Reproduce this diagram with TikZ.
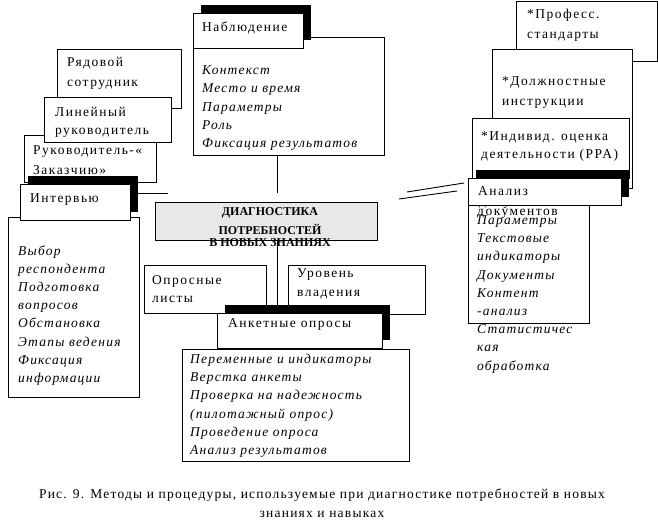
\documentclass[tikz,border=0pt]{standalone}
\usepackage{fontspec}
\setmainfont{Liberation Serif}
\newfontfamily\boxfont{Liberation Serif}[LetterSpace=11]
\newfontfamily\listfont{Liberation Serif}[LetterSpace=9]
\newfontfamily\capfont{Liberation Serif}[LetterSpace=9]
\usetikzlibrary{shadows,calc}

\tikzset{
  box/.style={draw,fill=white,line width=0.9pt,anchor=north west,inner sep=0pt},
  shbox/.style={box,general shadow={fill=black,shadow xshift=8pt,shadow yshift=8pt}},
  txt/.style={anchor=base west,inner sep=0pt,align=left,font=\boxfont\fontsize{13.5}{19.5}\selectfont},
  itxt/.style={anchor=base west,inner sep=0pt,align=left,font=\listfont\itshape\fontsize{13.5}{18.2}\selectfont},
  link/.style={line width=0.9pt}
}

\begin{document}
\begin{tikzpicture}[x=1pt,y=-1pt]
\useasboundingbox (0,0) rectangle (658,526);

% right stack
\node[box,minimum width=141pt,minimum height=60pt] (prof) at (516,1) {};
\node[txt] (prof-t) at (527,38.5) {*Професс.\\стандарты};
\node[box,minimum width=140pt,minimum height=139pt] (dolzh) at (492,49) {};
\node[txt] (dolzh-t) at (502,105.5) {*Должностные\\инструкции};
\node[box,minimum width=157pt,minimum height=60pt] (indiv) at (472,118) {};
\node[txt] (indiv-t) at (481,158.5) {*Индивид. оценка\\[-1.5pt]деятельности (PPA)};

\node[box,minimum width=121pt,minimum height=118pt] (analiz) at (468,205) {};
\node[txt] (analiz-t0) at (479,206) {документов};
\node[txt] (analiz-t1) at (477,216) {документов};
\node[itxt] (analiz-t) at (477,370) {Параметры\\Текстовые\\индикаторы\\Документы\\Контент\\-анализ\\Статистичес\\кая\\обработка};
\node[shbox,minimum width=153pt,minimum height=27pt] (analiz-h) at (468,178) {};
\node[txt] (analiz-ht) at (478,196) {Анализ};

\coordinate (doc-a1) at (407,192);
\coordinate (doc-a2) at (464,183);
\coordinate (doc-b1) at (399,199);
\coordinate (doc-b2) at (457,191);
\draw[link] (doc-a1) -- (doc-a2);
\draw[link] (doc-b1) -- (doc-b2);

% left stack
\node[box,minimum width=124pt,minimum height=59pt] (ryad) at (57,49) {};
\node[txt] (ryad-t) at (67,86.5) {Рядовой\\сотрудник};
\node[box,minimum width=132pt,minimum height=47pt] (ruk) at (24,135) {};
\node[txt] (ruk-t) at (33,175) {Руководитель-«\\[0.5pt]Заказчию»};
\node[box,minimum width=127pt,minimum height=45pt] (lin) at (44,97) {};
\node[txt] (lin-t) at (55,134.5) {Линейный\\[-1.5pt]руководитель};

\node[box,minimum width=131pt,minimum height=180pt] (interv) at (8,217) {};
\node[itxt] (interv-t) at (18,382.5) {Выбор\\респондента\\Подготовка\\вопросов\\Обстановка\\Этапы ведения\\Фиксация\\информации};
\node[shbox,minimum width=110pt,minimum height=36pt] (interv-h) at (20,184) {};
\node[txt] (interv-ht) at (30,203) {Интервью};
\coordinate (interv-end) at (168,193);
\draw[link] (interv-h.east |- interv-end) -- (interv-end);

% top
\node[box,minimum width=191pt,minimum height=118pt] (nabl) at (193,37) {};
\node[itxt] (nabl-t) at (202,147.5) {Контекст\\Место и время\\Параметры\\Роль\\Фиксация результатов};
\node[shbox,minimum width=110pt,minimum height=35pt] (nabl-h) at (193,13) {};
\node[txt] (nabl-ht) at (202,32) {Наблюдение};
\coordinate (nabl-end) at (277,193);
\draw[link] (nabl.south -| nabl-end) -- (nabl-end);

% centre
\node[box,fill=black!9,minimum width=222pt,minimum height=38pt] (diag) at (155,202) {};
\node[anchor=base,inner sep=0pt,align=center,font=\bfseries\fontsize{12}{19}\selectfont] (diag-t) at (270,246.5)
  {ДИАГНОСТИКА\\ПОТРЕБНОСТЕЙ\\[-7pt]В НОВЫХ ЗНАНИЯХ};

\node[box,minimum width=122pt,minimum height=48pt] (opros) at (144,265) {};
\node[txt] (opros-t) at (152,302.5) {Опросные\\[-1.5pt]листы};
\node[box,minimum width=137pt,minimum height=49pt] (urov) at (288,265) {};
\node[txt] (urov-t) at (297,297) {Уровень\\владения};

% bottom
\node[box,minimum width=227pt,minimum height=112pt] (ank) at (182,349) {};
\node[itxt] (ank-t) at (190,454.5) {Переменные и индикаторы\\Верстка анкеты\\Проверка на надежность\\(пилотажный опрос)\\Проведение опроса\\Анализ результатов};
\node[shbox,minimum width=165pt,minimum height=35pt] (ank-h) at (217,313) {};
\node[txt] (ank-ht) at (228,327) {Анкетные опросы};
\draw[link] (diag.south -| nabl-end) -- (ank-h.north -| nabl-end);

\node[anchor=base,inner sep=0pt,align=center,font=\capfont\fontsize{13.5}{19}\selectfont] (caption) at (322,517)
  {Рис. 9. Методы и процедуры, используемые при диагностике потребностей в новых\\знаниях и навыках};
\end{tikzpicture}
\end{document}
